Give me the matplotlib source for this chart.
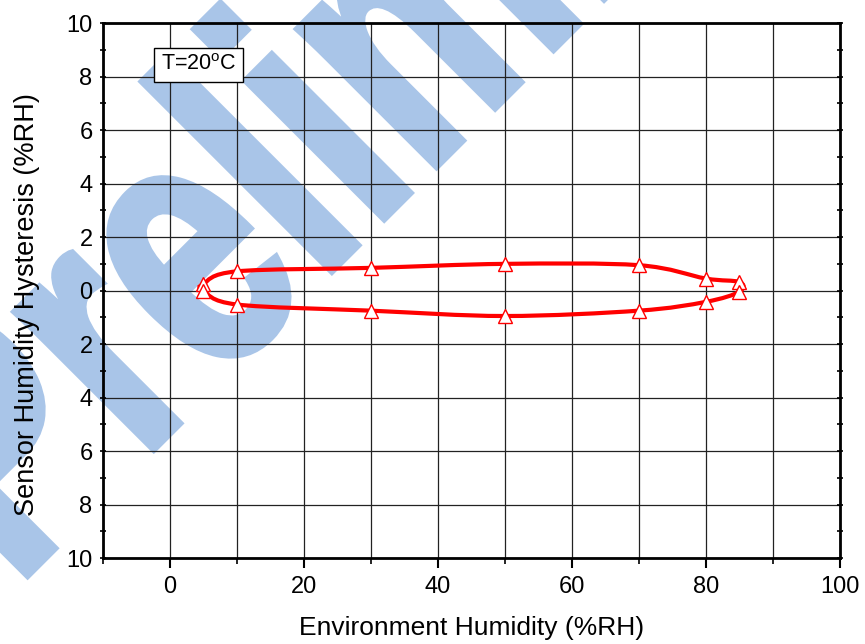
"""
Sensor humidity hysteresis loop at T=20 C, with the 'Preliminary' watermark.
"""
import numpy as np
import matplotlib
matplotlib.use("Agg")
import matplotlib.pyplot as plt
from matplotlib.path import Path
from matplotlib.patches import PathPatch
from matplotlib.textpath import TextPath
from matplotlib.font_manager import FontProperties
from matplotlib.transforms import Affine2D

# measured points (%RH)
rh_points = [5, 10, 30, 50, 70, 80, 85]
upper_branch = [0.25, 0.72, 0.85, 1.0, 0.95, 0.45, 0.32]
lower_branch = [0.0, -0.52, -0.75, -0.95, -0.75, -0.42, -0.04]

x_ticks = [0, 20, 40, 60, 80, 100]
y_ticks = [-10, -8, -6, -4, -2, 0, 2, 4, 6, 8, 10]
y_tick_labels = ["10", "8", "6", "4", "2", "0", "2", "4", "6", "8", "10"]

RED = "#ff0000"
WATERMARK = "#a9c5e8"

plt.rcParams["font.family"] = ["Liberation Sans", "DejaVu Sans"]


def smooth_loop(xs, ys):
    """closed Catmull-Rom loop turned into cubic bezier path"""
    pts = np.column_stack([xs, ys])
    n = len(pts)
    verts = [pts[0]]
    codes = [Path.MOVETO]
    for i in range(n):
        p0 = pts[(i - 1) % n]
        p1 = pts[i]
        p2 = pts[(i + 1) % n]
        p3 = pts[(i + 2) % n]
        c1 = p1 + (p2 - p0) / 6.0
        c2 = p2 - (p3 - p1) / 6.0
        verts += [c1, c2, p2]
        codes += [Path.CURVE4] * 3
    return Path(verts, codes)


fig = plt.figure(figsize=(8.65, 6.44), dpi=100)
fig.patch.set_facecolor("white")

# watermark: condensed bold text, rotated, in pixel coords, behind the axes
wm_path = TextPath((0, 0), "Preliminary", size=370,
                   prop=FontProperties(family="Liberation Sans", weight="bold"))
wm_tr = Affine2D().scale(0.72, 1.0).rotate_deg(45).translate(15, 56)
fig.add_artist(PathPatch(wm_path, transform=wm_tr, facecolor=WATERMARK,
                         edgecolor=WATERMARK, lw=5, zorder=-1))

ax = fig.add_axes([0.119, 0.1335, 0.852, 0.8305])
ax.patch.set_alpha(0)

ax.set_xlim(-10, 100)
ax.set_ylim(-10, 10)

# grid
for gx in range(-10, 101, 10):
    ax.axvline(gx, color="#222222", lw=0.9, zorder=1)
for gy in range(-10, 11, 2):
    ax.axhline(gy, color="#222222", lw=0.9, zorder=1)

loop_x = rh_points + rh_points[::-1]
loop_y = lower_branch + upper_branch[::-1]
ax.add_patch(PathPatch(smooth_loop(loop_x, loop_y), facecolor="none",
                       edgecolor=RED, lw=3.0, zorder=3))
ax.plot(rh_points, upper_branch, ls="none", marker="^", ms=9.5,
        mfc="white", mec=RED, mew=1.0, zorder=4)
ax.plot(rh_points, lower_branch, ls="none", marker="^", ms=9.5,
        mfc="white", mec=RED, mew=1.0, zorder=4)

ax.set_xticks(x_ticks)
ax.set_xticks(range(-10, 101, 10), minor=True)
ax.set_yticks(y_ticks)
ax.set_yticklabels(y_tick_labels)
ax.set_yticks(range(-9, 10, 2), minor=True)
ax.tick_params(axis="x", which="major", direction="out", length=7, width=1.5,
               labelsize=17, pad=6)
ax.tick_params(axis="x", which="minor", direction="out", length=4, width=1.2)
ax.tick_params(axis="y", which="both", direction="inout", length=5, width=1.2,
               left=True, right=True, labelsize=17, pad=5)

for sp in ax.spines.values():
    sp.set_linewidth(2)
    sp.set_zorder(5)

ax.set_xlabel("Environment Humidity (%RH)", fontsize=19, labelpad=13)
ax.set_ylabel("Sensor Humidity Hysteresis (%RH)", fontsize=19.5)
ax.yaxis.set_label_coords(-0.086, 0.473)

ax.text(-1.35, 8.45, r"T=20$^{\mathregular{o}}$C", fontsize=15.5, ha="left", va="center",
        zorder=6, bbox=dict(boxstyle="square,pad=0.3", fc="white", ec="black", lw=1))

fig.savefig("out.png", dpi=100)
